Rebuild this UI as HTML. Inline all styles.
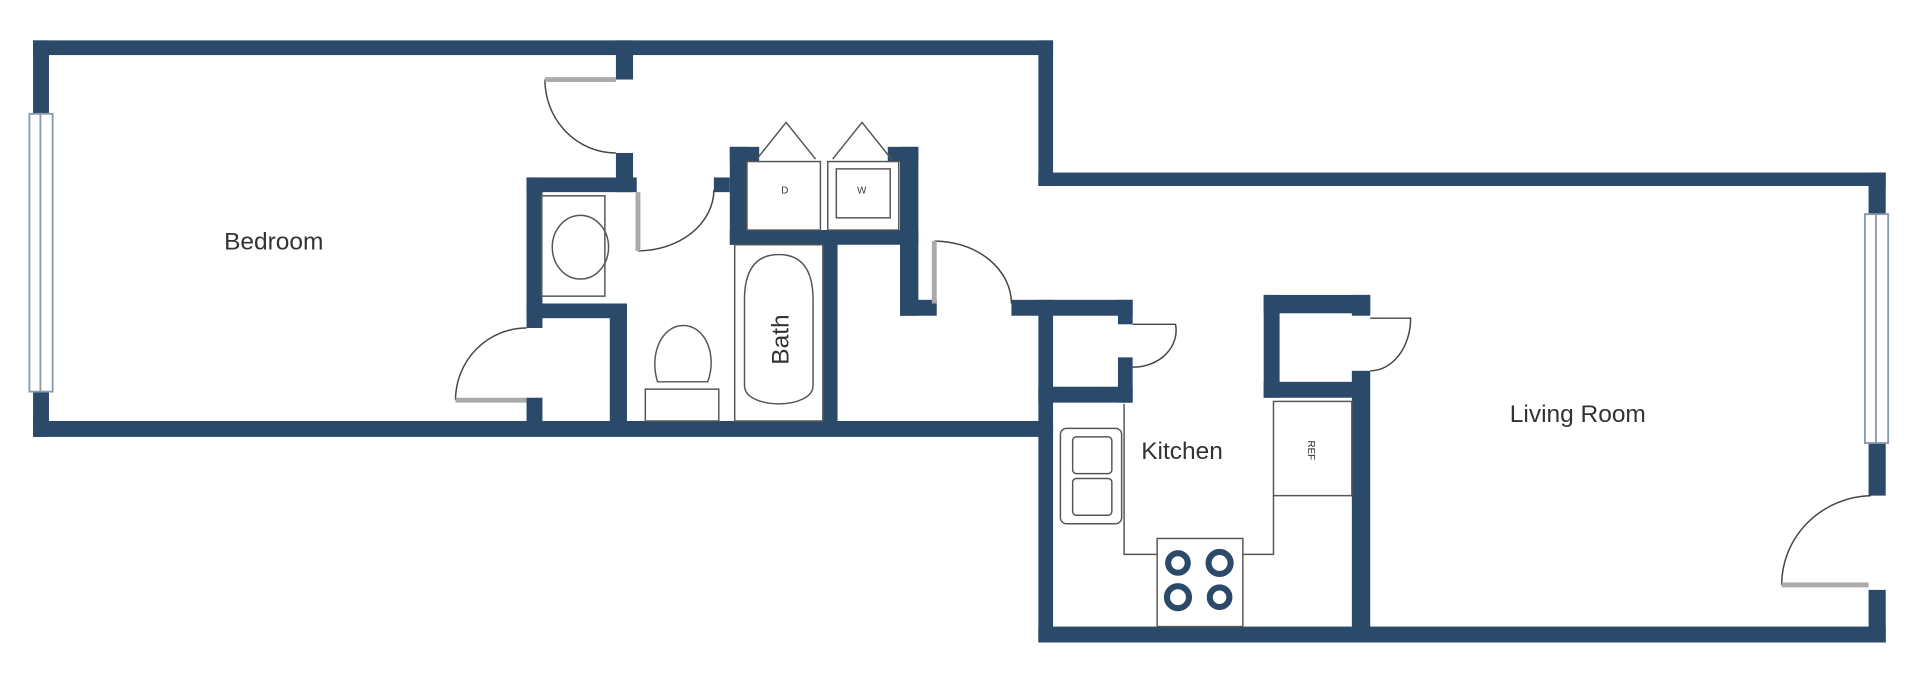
<!DOCTYPE html>
<html><head><style>html,body{margin:0;padding:0;background:#fff;width:1920px;height:689px;overflow:hidden}</style></head>
<body>
<svg width="1920" height="689" viewBox="0 0 1568 563" preserveAspectRatio="none" xmlns="http://www.w3.org/2000/svg" font-family="Liberation Sans, sans-serif">
<rect width="1568" height="563" fill="#fff"/>
<g fill="#2b4a6a">
<!-- outer walls -->
<rect x="27" y="33" width="833" height="12"/>
<rect x="27" y="33" width="13" height="60"/>
<rect x="27" y="320" width="13" height="37"/>
<rect x="27" y="344" width="833" height="13"/>
<rect x="848" y="33" width="12" height="119"/>
<rect x="848" y="141" width="692" height="11"/>
<rect x="1526" y="141" width="14" height="34"/>
<rect x="1526" y="362" width="14" height="43"/>
<rect x="1526" y="482" width="14" height="43"/>
<rect x="848" y="512" width="692" height="13"/>
<rect x="848" y="245" width="12" height="280"/>
<!-- bedroom / bath interior -->
<rect x="503" y="33" width="14" height="32"/>
<rect x="503" y="125" width="14" height="32"/>
<rect x="430" y="145" width="90" height="12"/>
<rect x="430" y="145" width="13" height="123"/>
<rect x="430" y="248" width="82" height="12"/>
<rect x="498" y="248" width="14" height="102"/>
<rect x="430" y="325" width="13" height="25"/>
<rect x="583" y="145" width="13" height="12"/>
<!-- laundry -->
<rect x="596" y="120" width="14" height="80"/>
<rect x="596" y="120" width="24" height="12"/>
<rect x="725" y="120" width="25" height="12"/>
<rect x="735" y="120" width="15" height="138"/>
<rect x="596" y="188" width="154" height="12"/>
<rect x="672" y="188" width="12" height="162"/>
<rect x="735" y="245" width="30" height="13"/>
<!-- kitchen -->
<rect x="826" y="245" width="99" height="13"/>
<rect x="913" y="245" width="12" height="20"/>
<rect x="913" y="292" width="12" height="37"/>
<rect x="848" y="316" width="77" height="13"/>
<rect x="1032" y="241" width="87" height="15"/>
<rect x="1032" y="241" width="13" height="84"/>
<rect x="1032" y="312" width="85" height="13"/>
<rect x="1104" y="241" width="15" height="17"/>
<rect x="1104" y="303" width="15" height="222"/>
</g>
<!-- windows -->
<g fill="#fff" stroke="#8a9aa8" stroke-width="1.5">
<rect x="24" y="93" width="19" height="227"/>
<line x1="33" y1="93" x2="33" y2="320"/>
<rect x="1523" y="175" width="19" height="187"/>
<line x1="1532" y1="175" x2="1532" y2="362"/>
</g>
<!-- doors -->
<g fill="none" stroke="#444" stroke-width="1.2">
<path d="M445 65 A58 60 0 0 0 503 125"/>
<path d="M521 205 A62 50 0 0 0 583 155"/>
<path d="M372 327 A58 59 0 0 1 430 268"/>
<path d="M763 197 A63 51 0 0 1 826 248"/>
<path d="M1455 478 A75 73 0 0 1 1528 405"/>
<path d="M925 265 L960 265 A35 30 0 0 1 925 300"/>
<path d="M1119 260 L1152 260 A33 43 0 0 1 1119 303"/>
</g>
<g stroke="#aaa" stroke-width="4">
<line x1="445" y1="65" x2="503" y2="65"/>
<line x1="521" y1="157" x2="521" y2="205"/>
<line x1="372" y1="327" x2="430" y2="327"/>
<line x1="763" y1="197" x2="763" y2="248"/>
<line x1="1455" y1="478" x2="1526" y2="478"/>
</g>
<!-- fixtures -->
<g fill="none" stroke="#555" stroke-width="1.2">
<rect x="442" y="160" width="52" height="82"/>
<ellipse cx="474" cy="202" rx="23" ry="26"/>
<rect x="527" y="318" width="60" height="26"/>
<path d="M537 312 C530 290 540 266 558 266 C576 266 586 290 578 312 Z"/>
<rect x="600" y="200" width="72" height="144"/>
<path d="M608 245 C608 215 622 208 636 208 C650 208 664 215 664 245 L664 315 C664 335 608 335 608 315 Z"/>
<polyline points="618,130 642,100 666,130"/>
<polyline points="680,130 704,100 728,130"/>
<rect x="610" y="132" width="60" height="56"/>
<rect x="676" y="132" width="58" height="56"/>
<rect x="683" y="138" width="44" height="40"/>
<rect x="866" y="350" width="50" height="78" rx="5"/>
<rect x="876" y="357" width="32" height="30" rx="3"/>
<rect x="876" y="391" width="32" height="30" rx="3"/>
<polyline points="918,330 918,453 945,453"/>
<polyline points="1015,453 1040,453 1040,405"/>
<rect x="1040" y="328" width="64" height="77"/>
<rect x="945" y="440" width="70" height="72"/>
</g>
<g fill="none" stroke="#2b4a6a" stroke-width="5">
<circle cx="962" cy="460" r="8"/><circle cx="996" cy="460" r="9"/>
<circle cx="962" cy="488" r="9"/><circle cx="996" cy="488" r="8"/>
</g>
<g fill="#333" font-size="8">
<text x="638" y="158">D</text><text x="700" y="158">W</text>
<text x="1068" y="360" transform="rotate(90 1068 360)">REF</text>
</g>
<g fill="#333" font-size="20">
<text x="183" y="204">Bedroom</text>
<text x="1233" y="345">Living Room</text>
<text x="932" y="375">Kitchen</text>
<text x="644" y="298" transform="rotate(-90 644 298)">Bath</text>
</g>
</svg>
</body></html>
